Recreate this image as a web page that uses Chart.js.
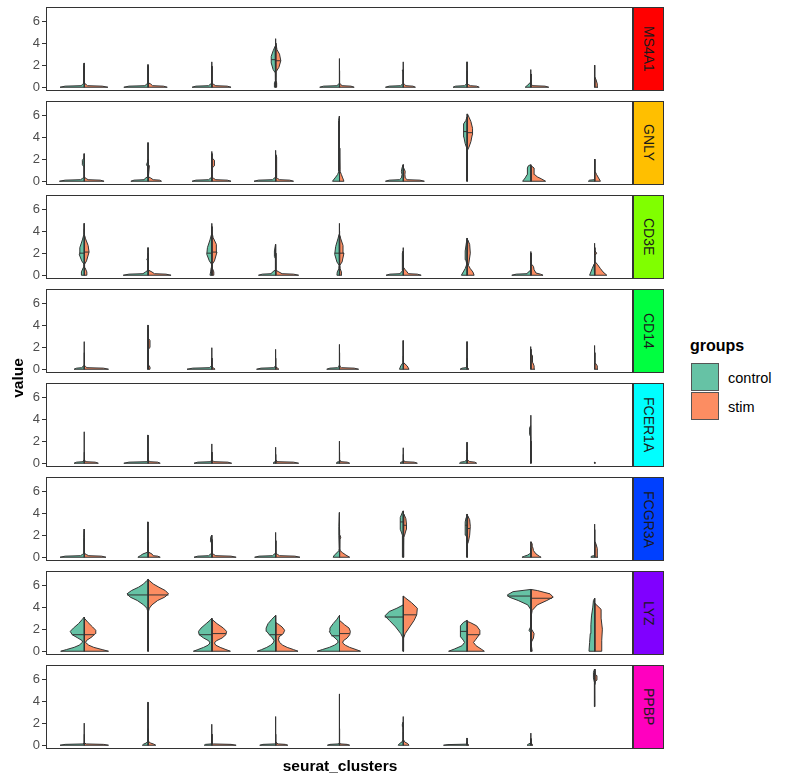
<!DOCTYPE html>
<html>
<head>
<meta charset="utf-8">
<script src="https://cdn.jsdelivr.net/npm/chart.js@4/dist/chart.umd.min.js"></script>
<style>
  body { margin: 0; background: #fff; font-family: "Liberation Sans", Arial, sans-serif; }
  #wrap { position: relative; width: 785px; height: 781px; overflow: hidden; }
  #wrap canvas { position: absolute; left: 0; }
  .strip { position: absolute; left: 633px; width: 31px; box-sizing: border-box; border: 1px solid #333;
           display: flex; align-items: center; justify-content: center; }
  .strip span { writing-mode: vertical-rl; font-size: 14px; color: #1a1a1a; }
  .txt { position: absolute; white-space: nowrap; color: #000; }
  .key { position: absolute; left: 691px; width: 28px; height: 28px; box-sizing: border-box; border: 1px solid #555; }
</style>
</head>
<body>
<div id="wrap"></div>
<script>
const GENES = ["MS4A1", "GNLY", "CD3E", "CD14", "FCER1A", "FCGR3A", "LYZ", "PPBP"];
const STRIP_COLORS = ["#FF0000", "#FFBF00", "#80FF00", "#00FF40", "#00FFFF", "#0040FF", "#8000FF", "#FF00BF"];
const CLUSTERS = ["0", "1", "2", "3", "4", "5", "6", "7", "8"];
const GROUPS = ["control", "stim"];
const GROUP_COLORS = ["#66C2A5", "#FC8D62"];
const Y_TICKS = [0, 2, 4, 6];

// half violin outlines, one per cluster: [value, half width] from bottom to top
const MS4A1_CONTROL = [
  [[0,.38],[.1,.3],[.14,.05],[.25,.03],[.35,.005],[1.7,.005],[1.8,.015],[2.0,.015],[2.2,.003]],
  [[0,.38],[.1,.3],[.14,.05],[.25,.03],[.35,.005],[2.05,.004]],
  [[0,.31],[.1,.25],[.14,.05],[.25,.03],[.35,.005],[2.3,.004]],
  [[0,.02],[.4,.02],[.6,.004],[1.3,.006],[1.6,.04],[2.2,.07],[2.8,.07],[3.3,.04],[3.7,.01],[4.4,.003]],
  [[0,.31],[.1,.25],[.14,.04],[.25,.02],[.35,.004],[2.6,.003]],
  [[0,.28],[.1,.22],[.14,.04],[.25,.02],[.35,.004],[1.4,.004],[1.5,.015],[1.6,.004],[2.3,.003]],
  [[0,.22],[.1,.18],[.14,.04],[.25,.02],[.35,.004],[2.3,.003]],
  [[0,.09],[.15,.06],[.3,.03],[.45,.008],[1.0,.006],[1.6,.003]],
  [[0,.01],[.3,.005],[2.0,.003]],
];
const MS4A1_STIM = [
  [[0,.37],[.1,.28],[.14,.05],[.25,.03],[.35,.005],[1.9,.004]],
  [[0,.3],[.1,.24],[.14,.07],[.3,.04],[.4,.005],[1.9,.004]],
  [[0,.3],[.1,.24],[.14,.06],[.25,.03],[.35,.005],[1.9,.004]],
  [[0,.015],[.4,.015],[.6,.004],[1.4,.006],[1.8,.05],[2.4,.08],[3.0,.06],[3.4,.02],[4.0,.003]],
  [[0,.23],[.1,.18],[.14,.04],[.25,.02],[.35,.004],[1.5,.003]],
  [[0,.19],[.1,.15],[.14,.04],[.25,.02],[.35,.004],[1.5,.003]],
  [[0,.19],[.1,.15],[.14,.05],[.25,.02],[.35,.004],[1.5,.003]],
  [[0,.28],[.1,.22],[.14,.03],[.25,.01],[.35,.004],[1.2,.003]],
  [[0,.05],[.3,.04],[.7,.02],[.9,.004],[2.0,.004]],
];
const GNLY_CONTROL = [
  [[0,.39],[.1,.3],[.14,.06],[.25,.03],[.35,.005],[1.3,.005],[1.5,.03],[1.9,.03],[2.1,.005],[2.5,.003]],
  [[0,.27],[.1,.22],[.14,.06],[.3,.04],[.4,.005],[1.3,.005],[1.5,.025],[1.8,.005],[3.5,.003]],
  [[0,.31],[.1,.25],[.14,.05],[.25,.03],[.35,.005],[2.7,.003]],
  [[0,.34],[.1,.27],[.14,.05],[.25,.03],[.35,.005],[2.8,.003]],
  [[0,.11],[.3,.07],[.6,.03],[.9,.01],[1.2,.015],[5.5,.015],[5.9,.003]],
  [[0,.28],[.1,.22],[.14,.06],[.3,.03],[.6,.02],[.9,.03],[1.2,.02],[1.5,.004]],
  [[0,.005],[3.0,.005],[3.4,.03],[4.0,.05],[4.6,.06],[5.2,.05],[5.5,.02],[5.8,.004]],
  [[0,.13],[.3,.09],[.6,.06],[.9,.05],[1.2,.06],[1.4,.04],[1.5,.004]],
  [[0,.1],[.1,.08],[.14,.005],[2.0,.003]],
];
const GNLY_STIM = [
  [[0,.31],[.1,.25],[.14,.06],[.25,.03],[.35,.005],[1.5,.004]],
  [[0,.21],[.1,.18],[.14,.08],[.3,.04],[.4,.005],[1.4,.02],[1.5,.004],[2.0,.003]],
  [[0,.3],[.1,.24],[.14,.06],[.25,.03],[.35,.005],[1.2,.005],[1.4,.04],[1.9,.04],[2.1,.004],[2.5,.003]],
  [[0,.28],[.1,.22],[.14,.06],[.25,.03],[.35,.005],[1.3,.005],[1.6,.02],[2.2,.02],[2.4,.003]],
  [[0,.07],[.3,.05],[.6,.03],[.9,.01],[1.1,.01],[3.0,.005]],
  [[0,.33],[.1,.26],[.14,.06],[.3,.03],[.6,.025],[.9,.03],[1.2,.005],[1.5,.003]],
  [[0,.005],[2.8,.005],[3.1,.03],[3.6,.06],[4.2,.08],[4.8,.085],[5.4,.06],[5.8,.03],[6.1,.005]],
  [[0,.23],[.2,.17],[.4,.1],[.6,.06],[.9,.05],[1.2,.05],[1.4,.004]],
  [[0,.09],[.3,.06],[.6,.03],[.9,.005],[2.0,.003]],
];
const CD3E_CONTROL = [
  [[0,.045],[.3,.045],[.7,.015],[1.0,.005],[1.3,.04],[1.9,.08],[2.5,.07],[3.2,.03],[3.7,.006],[4.7,.003]],
  [[0,.39],[.1,.3],[.14,.08],[.3,.04],[.45,.005],[1.3,.005],[1.4,.02],[1.6,.005],[2.5,.003]],
  [[0,.03],[.3,.02],[.7,.01],[1.0,.005],[1.3,.04],[1.9,.08],[2.5,.07],[3.2,.03],[3.7,.006],[4.7,.003]],
  [[0,.27],[.1,.21],[.14,.07],[.3,.05],[.45,.01],[1.5,.005],[1.7,.02],[2.2,.02],[2.8,.003]],
  [[0,.04],[.3,.035],[.6,.01],[.9,.005],[1.2,.04],[1.9,.075],[2.6,.06],[3.3,.025],[3.7,.005],[4.7,.003]],
  [[0,.27],[.1,.21],[.14,.05],[.3,.03],[.45,.005],[1.2,.005],[1.4,.02],[2.0,.02],[2.2,.003],[2.5,.003]],
  [[0,.09],[.3,.06],[.6,.03],[1.0,.005],[1.4,.02],[2.2,.03],[3.0,.01],[3.35,.003]],
  [[0,.3],[.1,.23],[.14,.06],[.3,.04],[.45,.005],[2.15,.003]],
  [[0,.08],[.3,.06],[.6,.04],[1.0,.01],[1.2,.004],[2.9,.003]],
];
const CD3E_STIM = [
  [[0,.04],[.3,.04],[.7,.01],[1.0,.005],[1.3,.035],[2.1,.075],[2.7,.06],[3.3,.02],[3.6,.005],[4.2,.003]],
  [[0,.36],[.1,.28],[.14,.1],[.3,.06],[.45,.01],[.6,.004],[2.0,.003]],
  [[0,.03],[.3,.03],[.6,.01],[1.0,.005],[1.3,.04],[2.1,.08],[2.8,.07],[3.4,.02],[3.8,.005],[4.4,.003]],
  [[0,.36],[.1,.28],[.14,.1],[.3,.05],[.45,.005],[2.0,.003]],
  [[0,.035],[.3,.03],[.6,.01],[.9,.005],[1.2,.04],[2.0,.07],[2.7,.055],[3.3,.02],[3.6,.005],[4.0,.003]],
  [[0,.28],[.1,.22],[.14,.08],[.3,.06],[.5,.03],[.7,.005],[1.8,.003]],
  [[0,.11],[.3,.09],[.6,.05],[.9,.02],[1.2,.03],[2.0,.05],[2.8,.04],[3.2,.01],[3.35,.003]],
  [[0,.19],[.1,.15],[.2,.08],[.5,.05],[.8,.04],[1.0,.01],[1.2,.004],[2.0,.003]],
  [[0,.19],[.3,.13],[.6,.09],[1.0,.04],[1.2,.01],[1.8,.005],[2.0,.03],[2.2,.005],[2.5,.003]],
];
const CD14_CONTROL = [
  [[0,.16],[.1,.12],[.14,.04],[.25,.02],[.35,.004],[2.5,.003]],
  [[0,.01],[.3,.005],[4.0,.003]],
  [[0,.39],[.1,.3],[.14,.04],[.25,.02],[.35,.004],[1.95,.003]],
  [[0,.3],[.1,.23],[.14,.03],[.25,.01],[.35,.003],[1.8,.003]],
  [[0,.2],[.1,.15],[.14,.03],[.25,.01],[.35,.003],[2.25,.003]],
  [[0,.06],[.3,.04],[.6,.005],[2.6,.003]],
  [[0,.11],[.1,.08],[.14,.02],[.3,.004],[2.5,.003]],
  [[0,.01],[.5,.004],[2.05,.003]],
  [[0,.005],[2.15,.003]],
];
const CD14_STIM = [
  [[0,.38],[.1,.3],[.14,.04],[.25,.02],[.35,.004],[1.5,.003]],
  [[0,.03],[.2,.03],[.4,.005],[1.8,.005],[2.0,.03],[2.6,.03],[2.8,.005],[3.6,.003]],
  [[0,.05],[.1,.03],[.2,.004],[1.0,.003]],
  [[0,.05],[.1,.03],[.2,.004],[1.0,.003]],
  [[0,.3],[.1,.23],[.14,.03],[.25,.01],[.35,.003],[1.5,.003]],
  [[0,.09],[.3,.06],[.6,.005],[1.2,.003]],
  [[0,.03],[.1,.01],[.3,.003],[1.0,.003]],
  [[0,.06],[.3,.05],[.6,.03],[.9,.02],[1.2,.03],[1.4,.005],[1.8,.003]],
  [[0,.05],[.3,.04],[.6,.005],[1.5,.003]],
];
const FCER1A_CONTROL = [
  [[0,.16],[.1,.12],[.14,.02],[.3,.004],[2.85,.003]],
  [[0,.38],[.1,.3],[.14,.02],[.3,.004],[1.3,.004],[1.4,.012],[1.5,.004],[2.1,.004],[2.2,.012],[2.3,.004],[2.55,.003]],
  [[0,.28],[.1,.22],[.14,.02],[.3,.004],[1.75,.003]],
  [[0,.04],[.1,.03],[.14,.004],[1.45,.003]],
  [[0,.05],[.1,.04],[.14,.004],[2.0,.003]],
  [[0,.05],[.1,.04],[.14,.004],[1.4,.003]],
  [[0,.12],[.1,.1],[.15,.04],[.3,.005],[1.9,.003]],
  [[0,.005],[2.4,.005],[2.6,.02],[3.2,.02],[3.4,.005],[4.35,.003]],
  [[0,.01],[.05,.01],[.1,0]],
];
const FCER1A_STIM = [
  [[0,.22],[.1,.17],[.14,.02],[.3,.004],[1.0,.003]],
  [[0,.19],[.1,.15],[.14,.02],[.3,.004],[1.0,.003]],
  [[0,.31],[.1,.25],[.14,.03],[.3,.005],[1.0,.003]],
  [[0,.36],[.1,.28],[.14,.02],[.3,.004],[.8,.003]],
  [[0,.16],[.1,.12],[.14,.02],[.3,.004],[1.0,.003]],
  [[0,.22],[.1,.17],[.14,.02],[.3,.004],[.8,.003]],
  [[0,.15],[.1,.12],[.15,.04],[.3,.005],[1.0,.003]],
  [[0,.004],[2.0,.003]],
  [[0,.01],[.05,.01],[.1,0]],
];
const FCGR3A_CONTROL = [
  [[0,.38],[.1,.3],[.14,.06],[.25,.03],[.35,.005],[1.5,.005],[1.6,.015],[1.8,.005],[2.55,.003]],
  [[0,.16],[.15,.12],[.3,.08],[.45,.01],[1.4,.005],[1.5,.015],[1.7,.004],[3.2,.003]],
  [[0,.28],[.1,.22],[.14,.05],[.25,.03],[.35,.005],[1.3,.005],[1.4,.02],[1.8,.02],[2.0,.003]],
  [[0,.33],[.1,.26],[.14,.05],[.25,.03],[.35,.005],[2.25,.003]],
  [[0,.1],[.2,.08],[.4,.04],[.6,.01],[.8,.005],[2.0,.01],[2.8,.01],[4.05,.003]],
  [[0,.006],[1.8,.008],[2.0,.02],[2.5,.045],[3.0,.05],[3.6,.045],[4.0,.02],[4.2,.003]],
  [[0,.006],[1.8,.006],[2.0,.02],[2.5,.03],[3.2,.03],[3.6,.015],[3.9,.003]],
  [[0,.14],[.1,.1],[.2,.05],[.3,.02],[.4,.005],[.8,.003]],
  [[0,.06],[.1,.05],[.14,.005],[3.0,.003]],
];
const FCGR3A_STIM = [
  [[0,.34],[.1,.27],[.14,.07],[.25,.03],[.35,.005],[1.6,.004]],
  [[0,.19],[.1,.15],[.14,.08],[.3,.06],[.45,.01],[1.4,.004]],
  [[0,.38],[.1,.3],[.14,.06],[.25,.03],[.35,.005],[1.6,.004]],
  [[0,.38],[.1,.3],[.14,.06],[.25,.03],[.35,.005],[1.5,.004]],
  [[0,.16],[.2,.1],[.4,.05],[.6,.01],[.8,.005],[1.6,.005],[1.8,.02],[2.0,.005],[2.5,.003]],
  [[0,.006],[1.8,.008],[2.0,.02],[2.5,.045],[3.0,.05],[3.5,.04],[3.9,.01],[4.1,.003]],
  [[0,.006],[1.2,.006],[1.4,.02],[2.0,.04],[2.8,.05],[3.4,.04],[3.75,.01],[3.9,.003]],
  [[0,.16],[.1,.13],[.3,.08],[.6,.04],[.9,.03],[1.2,.02],[1.4,.003]],
  [[0,.05],[.4,.04],[.8,.04],[1.2,.02],[1.4,.004],[2.5,.003]],
];
const LYZ_CONTROL = [
  [[0,.37],[.15,.28],[.35,.16],[.55,.08],[.8,.03],[.95,.03],[1.2,.1],[1.5,.19],[1.8,.22],[2.1,.17],[2.5,.09],[2.9,.03],[3.1,0]],
  [[0,.005],[3.6,.005],[3.9,.02],[4.2,.07],[4.6,.17],[4.9,.28],[5.2,.33],[5.5,.26],[5.8,.15],[6.1,.07],[6.4,.02],[6.5,0]],
  [[0,.29],[.15,.22],[.35,.13],[.55,.06],[.75,.03],[.95,.05],[1.2,.13],[1.5,.2],[1.8,.21],[2.1,.17],[2.5,.09],[2.8,.03],[3.0,0]],
  [[0,.29],[.15,.22],[.35,.14],[.55,.08],[.75,.04],[.95,.025],[1.2,.05],[1.5,.1],[1.8,.14],[2.1,.15],[2.5,.12],[2.9,.06],[3.25,0]],
  [[0,.35],[.15,.27],[.35,.16],[.55,.08],[.75,.03],[.95,.025],[1.2,.07],[1.5,.13],[1.8,.16],[2.1,.15],[2.5,.1],[2.9,.04],[3.25,0]],
  [[0,.005],[1.2,.005],[1.6,.04],[2.2,.12],[2.8,.22],[3.2,.29],[3.6,.22],[3.9,.1],[4.2,0]],
  [[0,.29],[.2,.2],[.5,.08],[.8,.04],[1.0,.06],[1.3,.1],[1.8,.11],[2.3,.1],[2.6,.06],[2.8,0]],
  [[0,.005],[1.7,.005],[1.9,.03],[2.2,.005],[3.8,.005],[4.2,.05],[4.6,.2],[4.9,.34],[5.1,.37],[5.4,.28],[5.6,0]],
  [[0,.09],[.8,.08],[1.6,.07],[2.4,.06],[3.2,.05],[4.0,.03],[4.6,.02],[4.8,0]],
];
const LYZ_STIM = [
  [[0,.38],[.15,.28],[.35,.15],[.55,.07],[.8,.02],[1.0,.04],[1.3,.12],[1.6,.17],[1.9,.18],[2.2,.13],[2.6,.06],[3.0,0]],
  [[0,.005],[3.6,.005],[3.9,.02],[4.2,.06],[4.6,.15],[4.9,.26],[5.2,.32],[5.5,.27],[5.8,.17],[6.1,.08],[6.4,.02],[6.5,0]],
  [[0,.29],[.15,.22],[.35,.13],[.55,.06],[.75,.04],[.95,.07],[1.2,.16],[1.5,.22],[1.8,.23],[2.1,.18],[2.5,.08],[2.9,0]],
  [[0,.35],[.15,.28],[.35,.18],[.55,.11],[.8,.06],[1.1,.04],[1.3,.05],[1.6,.12],[1.9,.14],[2.2,.1],[2.5,.03],[2.6,0]],
  [[0,.33],[.15,.26],[.35,.16],[.55,.09],[.75,.05],[.95,.06],[1.2,.12],[1.5,.16],[1.8,.17],[2.1,.15],[2.4,.08],[2.8,0]],
  [[0,.005],[1.2,.005],[1.6,.03],[2.2,.1],[2.8,.17],[3.3,.21],[3.9,.22],[4.4,.13],[4.8,.04],[5.0,0]],
  [[0,.27],[.2,.22],[.5,.14],[.8,.1],[1.1,.14],[1.5,.19],[1.9,.2],[2.3,.15],[2.6,.05],[2.7,0]],
  [[0,.02],[.4,.01],[.8,.005],[1.2,.04],[1.6,.05],[2.0,.01],[3.2,.005],[3.7,.02],[4.2,.1],[4.6,.25],[4.9,.35],[5.2,.3],[5.5,.1],[5.6,0]],
  [[0,.11],[1.0,.11],[2.0,.12],[3.0,.1],[3.8,.1],[4.35,0]],
];
const PPBP_CONTROL = [
  [[0,.38],[.08,.3],[.12,.02],[.2,.004],[2.0,.003]],
  [[0,.09],[.1,.07],[.2,.03],[.35,.005],[3.9,.004]],
  [[0,.12],[.08,.1],[.12,.01],[.2,.004],[1.9,.003]],
  [[0,.25],[.08,.2],[.12,.02],[.2,.004],[2.6,.003]],
  [[0,.19],[.08,.15],[.12,.02],[.2,.004],[4.65,.003]],
  [[0,.08],[.15,.06],[.3,.02],[.5,.004],[1.7,.005],[1.9,.015],[2.1,.004],[2.6,.003]],
  [[0,.37],[.06,.3],[.1,.01],[.15,.004],[.65,.003]],
  [[0,.06],[.1,.04],[.2,.005],[1.1,.003]],
  [[3.5,.003],[5.7,.008],[6.1,.02],[6.6,.02],[6.9,.003]],
];
const PPBP_STIM = [
  [[0,.38],[.08,.3],[.12,.03],[.2,.004],[1.0,.003]],
  [[0,.12],[.1,.09],[.2,.04],[.35,.005],[1.5,.003]],
  [[0,.38],[.08,.3],[.12,.02],[.2,.004],[1.0,.003]],
  [[0,.19],[.08,.15],[.12,.04],[.2,.01],[.3,.004],[1.0,.003]],
  [[0,.16],[.08,.12],[.12,.02],[.2,.004],[1.5,.003]],
  [[0,.09],[.15,.07],[.3,.02],[.5,.004],[1.2,.003]],
  [[0,.03],[.05,.02],[.1,.003],[.3,.003]],
  [[0,.03],[.1,.02],[.2,.004],[.6,.003]],
  [[5.5,.003],[5.8,.01],[5.9,.035],[6.3,.035],[6.4,.01],[6.9,.003]],
];

// median lines [value, half width], null where none is drawn
const MEDIAN_CONTROL = {
  MS4A1: [null, null, null, [2.5,.07], null, null, null, null, null],
  GNLY: [null, null, null, null, null, null, [4.5,.06], null, null],
  CD3E: [[2.0,.08], null, [2.0,.08], null, [2.0,.075], null, null, null, null],
  FCGR3A: [null, null, null, null, null, [3.2,.05], [2.9,.03], null, null],
  LYZ: [[1.5,.19], [5.1,.33], [1.5,.2], [1.5,.1], [1.4,.13], [3.1,.29], [1.8,.11], [5.0,.37], null],
};
const MEDIAN_STIM = {
  MS4A1: [null, null, null, [2.4,.08], null, null, null, null, null],
  GNLY: [null, null, null, null, null, null, [4.4,.085], null, null],
  CD3E: [[2.1,.075], null, [2.1,.08], null, [2.0,.07], null, null, null, null],
  FCGR3A: [null, null, null, null, null, [2.9,.05], [2.6,.045], null, null],
  LYZ: [[1.5,.16], [5.1,.32], [1.6,.22], [1.5,.1], [1.6,.16], [3.3,.21], [1.5,.19], [4.8,.33], null],
};

const PROFILES = {
  MS4A1: [MS4A1_CONTROL, MS4A1_STIM],
  GNLY: [GNLY_CONTROL, GNLY_STIM],
  CD3E: [CD3E_CONTROL, CD3E_STIM],
  CD14: [CD14_CONTROL, CD14_STIM],
  FCER1A: [FCER1A_CONTROL, FCER1A_STIM],
  FCGR3A: [FCGR3A_CONTROL, FCGR3A_STIM],
  LYZ: [LYZ_CONTROL, LYZ_STIM],
  PPBP: [PPBP_CONTROL, PPBP_STIM],
};

const FONT = '"Liberation Sans", Arial, sans-serif';
const PANEL_TOP = 7, PANEL_STEP = 94, PANEL_H = 84, PAD = 12;
const $wrap = document.getElementById("wrap");

// outline of half a violin; side -1 = left (control), +1 = right (stim)
const halfViolin = (c, prof, side) => {
  const pts = [{ x: c, y: prof[0][0] }];
  prof.forEach(([y, w]) => pts.push({ x: c + side * w, y }));
  pts.push({ x: c, y: prof[prof.length - 1][0] });
  pts.push({ x: c, y: prof[0][0] });
  return pts;
};

const panelBox = {
  id: "panelBox",
  afterDraw(chart) {
    const { ctx, chartArea: a } = chart;
    ctx.save();
    ctx.strokeStyle = "#333";
    ctx.lineWidth = 1;
    ctx.strokeRect(a.left + 0.5, a.top + 0.5, a.right - a.left - 1, a.bottom - a.top - 1);
    ctx.restore();
  },
};

GENES.forEach((gene, gi) => {
  const top = PANEL_TOP + gi * PANEL_STEP;
  const canvas = document.createElement("canvas");
  canvas.width = 634;
  canvas.height = PANEL_H + PAD * 2;
  canvas.style.top = top - PAD + "px";
  $wrap.appendChild(canvas);

  const datasets = [];
  CLUSTERS.forEach((cl, ci) => {
    const c = ci + 1;
    PROFILES[gene].forEach((groupProfiles, g) => {
      const side = g === 0 ? -1 : 1;
      datasets.push({
        label: GROUPS[g] + " " + cl,
        data: halfViolin(c, groupProfiles[ci], side),
        backgroundColor: GROUP_COLORS[g],
        borderColor: "#333",
        borderWidth: 1,
        fill: "shape",
        order: 1,
      });
      const med = (g === 0 ? MEDIAN_CONTROL : MEDIAN_STIM)[gene];
      if (med && med[ci]) {
        // drawn on top of the violin fills
        datasets.push({
          label: "median",
          data: [{ x: c + side * med[ci][1], y: med[ci][0] }, { x: c, y: med[ci][0] }],
          borderColor: "#333",
          borderWidth: 1,
          fill: false,
          order: 0,
        });
      }
    });
  });

  new Chart(canvas, {
    type: "line",
    data: { datasets },
    options: {
      responsive: false,
      animation: false,
      events: [],
      layout: { padding: { top: PAD, bottom: PAD, left: 0, right: 1 } },
      elements: { point: { radius: 0 }, line: { tension: 0 } },
      plugins: { legend: { display: false }, tooltip: { enabled: false } },
      scales: {
        x: { type: "linear", min: 0.4, max: 9.6, display: false },
        y: {
          min: -0.34,
          max: 7.27,
          afterBuildTicks: (s) => { s.ticks = Y_TICKS.map((v) => ({ value: v })); },
          afterFit: (s) => { s.width = 46; },
          border: { display: false },
          grid: { drawOnChartArea: false, drawTicks: true, tickLength: 4, color: "#333", tickWidth: 1 },
          ticks: { color: "#4D4D4D", padding: 2, font: { family: FONT, size: 13 } },
        },
      },
    },
    plugins: [panelBox],
  });

  const strip = document.createElement("div");
  strip.className = "strip";
  strip.style.top = top + "px";
  strip.style.height = PANEL_H + "px";
  strip.style.background = STRIP_COLORS[gi];
  strip.innerHTML = `<span>${gene}</span>`;
  $wrap.appendChild(strip);
});

// axis titles and legend
const addText = (text, style) => {
  const d = document.createElement("div");
  d.className = "txt";
  d.textContent = text;
  Object.assign(d.style, style);
  $wrap.appendChild(d);
  return d;
};
addText("value", { left: "-2px", top: "369px", width: "40px", textAlign: "center", fontSize: "15.5px",
  fontWeight: "bold", lineHeight: "18px", transform: "rotate(-90deg)" });
addText("seurat_clusters", { left: "240px", width: "200px", textAlign: "center", top: "756px",
  fontSize: "15.5px", fontWeight: "bold", lineHeight: "20px" });
addText("groups", { left: "690px", top: "336px", fontSize: "16px", fontWeight: "bold", lineHeight: "20px" });
GROUPS.forEach((g, i) => {
  const k = document.createElement("div");
  k.className = "key";
  k.style.top = 363 + i * 29 + "px";
  k.style.background = GROUP_COLORS[i];
  $wrap.appendChild(k);
  addText(g, { left: "728px", top: 369 + i * 29 + "px", fontSize: "14.5px", lineHeight: "18px" });
});
</script>
</body>
</html>
